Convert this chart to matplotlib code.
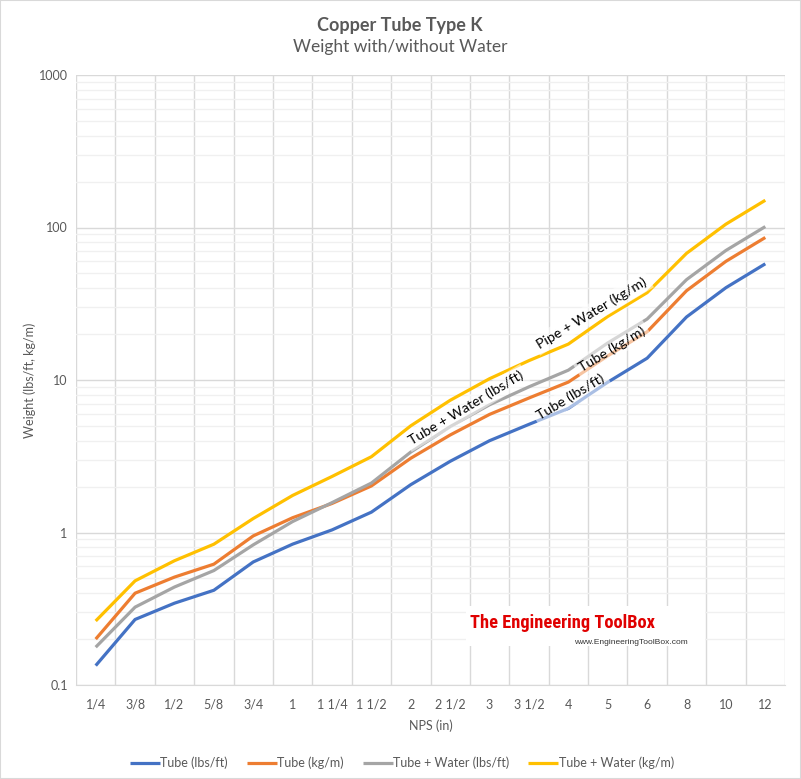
import matplotlib
matplotlib.use("Agg")
import matplotlib.pyplot as plt
import numpy as np
from matplotlib.patches import Rectangle
from matplotlib import font_manager

plt.rcParams['font.family'] = ['Lato', 'DejaVu Sans']

categories = ["1/4", "3/8", "1/2", "5/8", "3/4", "1", "1 1/4", "1 1/2", "2", "2 1/2",
              "3", "3 1/2", "4", "5", "6", "8", "10", "12"]
tube_lbs_ft = [0.134, 0.269, 0.344, 0.418, 0.641, 0.839, 1.04, 1.36, 2.06, 2.93,
               4.00, 5.12, 6.51, 9.67, 13.9, 25.9, 40.3, 57.8]
tube_kg_m = [0.20, 0.40, 0.51, 0.62, 0.95, 1.25, 1.55, 2.02, 3.07, 4.36,
             5.95, 7.62, 9.69, 14.4, 20.7, 38.5, 60.0, 86.0]
tube_water_lbs_ft = [0.177, 0.324, 0.439, 0.563, 0.830, 1.18, 1.57, 2.11, 3.37, 4.95,
                     6.88, 9.02, 11.6, 17.5, 25.1, 45.5, 70.7, 101.4]
tube_water_kg_m = [0.263, 0.482, 0.653, 0.838, 1.235, 1.75, 2.33, 3.14, 5.01, 7.36,
                   10.2, 13.4, 17.2, 26.1, 37.4, 67.7, 105.2, 150.9]
series_names = ["Tube (lbs/ft)", "Tube (kg/m)", "Tube + Water (lbs/ft)", "Tube + Water (kg/m)"]
colors = ["#4472C4", "#ED7D31", "#A5A5A5", "#FFC000"]

W, H = 801, 779
fig = plt.figure(figsize=(W / 100, H / 100), dpi=100)
ax = fig.add_axes([76 / W, 1 - 685 / H, (785 - 76) / W, (685 - 75) / H])

x = np.arange(len(categories))
for vals, name, c in zip([tube_lbs_ft, tube_kg_m, tube_water_lbs_ft, tube_water_kg_m], series_names, colors):
    ax.plot(x, vals, color=c, lw=2.3, label=name, solid_capstyle='butt', zorder=3)

ax.set_yscale('log')
ax.set_ylim(0.1, 1000)
ax.set_xlim(-0.5, len(categories) - 0.5)
ax.set_yticks([0.1, 1, 10, 100, 1000])
ax.set_yticklabels(["0.1", "1", "10", "100", "1000"])
ax.yaxis.set_minor_formatter(matplotlib.ticker.NullFormatter())
ax.set_xticks(x)
ax.set_xticklabels(categories)
ax.set_xticks(np.arange(-0.5, len(categories)), minor=True)

ax.grid(which='major', axis='y', color='#d9d9d9', lw=1, zorder=0)
ax.grid(which='minor', axis='y', color='#f0f0f0', lw=1, zorder=0)
ax.grid(which='minor', axis='x', color='#d9d9d9', lw=1, zorder=0)
ax.tick_params(axis='both', which='both', length=0, labelsize=9, colors='#595959')
ax.tick_params(axis='x', pad=10)
ax.tick_params(axis='y', pad=6)
for s in ['top', 'right', 'left']:
    ax.spines[s].set_visible(False)
ax.spines['bottom'].set_color('#d9d9d9')

ax.set_xlabel("NPS (in)", fontsize=9, color='#595959', labelpad=6)
ax.set_ylabel("Weight (lbs/ft, kg/m)", fontsize=9, color='#595959', labelpad=2)

fig.text(400 / W, 1 - 25 / H, "Copper Tube Type K", ha='center', va='center',
         fontsize=13, fontweight='bold', color='#595959')
fig.text(400 / W, 1 - 47 / H, "Weight with/without Water", ha='center', va='center',
         fontsize=12.5, color='#595959')

# in-chart labels
labels = [("Pipe + Water (kg/m)", 12.6, 27.5),
          ("Tube (kg/m)", 13.1, 16.0),
          ("Tube + Water (lbs/ft)", 9.40, 6.55),
          ("Tube (lbs/ft)", 12.06, 7.74)]
for txt, lx, ly in labels:
    ax.text(lx, ly, txt, rotation=31, rotation_mode='anchor', ha='center', va='center',
            fontsize=10.2, color='black', zorder=5,
            bbox=dict(boxstyle='square,pad=0.25', fc='white', ec='none', alpha=0.55))

# watermark
installed = {f.name for f in font_manager.fontManager.ttflist}
wm_size = 13.2
wm_family = None
for cand in ['Liberation Sans Narrow', 'DejaVu Sans Condensed', 'Roboto Condensed',
             'Open Sans Condensed', 'Noto Sans Condensed']:
    if cand in installed:
        wm_family = cand
        break
if wm_family is None:
    wm_family = 'Roboto'
    wm_size = 11
fig.patches.append(Rectangle((466 / W, 1 - 646 / H), (705 - 466) / W, (646 - 606) / H,
                             transform=fig.transFigure, fc='white', ec='none', zorder=2))
fig.text(470 / W, 1 - 623 / H, "The Engineering ToolBox", ha='left', va='center',
         fontsize=wm_size, fontweight='bold', color='#e00000',
         family=[wm_family, 'DejaVu Sans'], fontstretch='condensed', zorder=3)
fig.text(574 / W, 1 - 642 / H, "www.EngineeringToolBox.com", ha='left', va='center',
         fontsize=6, color='#333333', family=['Liberation Sans', 'DejaVu Sans'], zorder=3)

leg = fig.legend(loc='center', bbox_to_anchor=(402 / W, 1 - 763 / H), ncol=4, frameon=False,
                 fontsize=9.0, handlelength=2.4, handletextpad=0.05, columnspacing=1.5)
for t in leg.get_texts():
    t.set_color('#595959')

fig.patches.append(Rectangle((0, 0), 1, 1, transform=fig.transFigure, fill=False,
                             ec='#d9d9d9', lw=1.5))

fig.savefig("out.png", dpi=100)
